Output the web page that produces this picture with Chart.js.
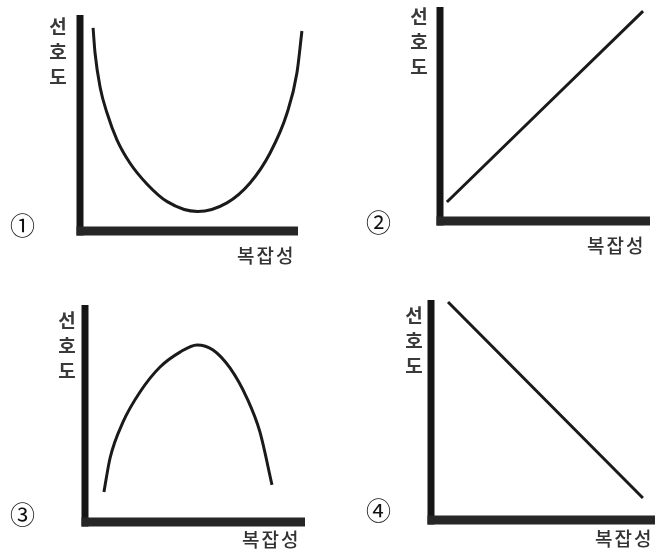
<!DOCTYPE html>
<html>
<head>
<meta charset="utf-8">
<script src="https://cdn.jsdelivr.net/npm/chart.js@4/dist/chart.umd.min.js"></script>
<style>
    body { margin: 0; background: #fff; }
    #page { position: relative; width: 669px; height: 555px; overflow: hidden; font-family: "Noto Sans CJK KR", sans-serif; color: #333; }
    #page canvas { position: absolute; left: 0; top: 0; }
    .ylab { position: absolute; width: 24px; font-size: 19px; line-height: 25px; text-align: center; font-weight: 700; color: #3a3a3a; }
    .xlab { position: absolute; font-size: 19px; letter-spacing: 2px; line-height: 20px; font-weight: 500; }
    .num { position: absolute; font-size: 25px; line-height: 24px; color: #111; }
</style>
</head>
<body>
<div id="page">
    <canvas id="c1" width="669" height="555"></canvas>
    <canvas id="c2" width="669" height="555"></canvas>
    <canvas id="c3" width="669" height="555"></canvas>
    <canvas id="c4" width="669" height="555"></canvas>

    <div class="ylab" style="left:46px; top:13px;">선<br>호<br>도</div>
    <div class="ylab" style="left:407px; top:3px;">선<br>호<br>도</div>
    <div class="ylab" style="left:55px; top:307px;">선<br>호<br>도</div>
    <div class="ylab" style="left:402px; top:302px;">선<br>호<br>도</div>

    <div class="xlab" style="left:237px; top:245px;">복잡성</div>
    <div class="xlab" style="left:587px; top:235px;">복잡성</div>
    <div class="xlab" style="left:242px; top:529px;">복잡성</div>
    <div class="xlab" style="left:595px; top:528px;">복잡성</div>

    <div class="num" style="left:10px; top:212px;">①</div>
    <div class="num" style="left:366px; top:209px;">②</div>
    <div class="num" style="left:10px; top:501px;">③</div>
    <div class="num" style="left:366px; top:497px;">④</div>
</div>
<script>
// complexity (0-100) vs preference (0-100)
var uShapeX = [6.0, 6.9, 9.2, 12.4, 17.0, 22.9, 30.7, 40.0, 54.0, 67.4, 78.0, 87.2, 95.0, 99.5, 101.8];
var uShapeY = [94.0, 82.4, 66.7, 54.6, 42.1, 31.5, 21.8, 13.6, 9.0, 13.0, 22.2, 36.1, 54.6, 73.1, 92.6];

var risingX = [3.3, 96.7];
var risingY = [8.9, 98.1];

var archX = [8.6, 11.4, 17.3, 25.0, 34.1, 43.2, 50.9, 58.2, 65.9, 73.6, 79.5, 85.0];
var archY = [13.8, 29.5, 46.1, 59.9, 71.4, 78.3, 81.6, 79.3, 71.0, 57.1, 41.5, 17.1];

var fallingX = [7.6, 94.6];
var fallingY = [99.1, 10.0];

// where each plot's axes sit on the page
var panels = [
    { id: 'c1', xs: uShapeX, ys: uShapeY, left: 80, top: 15, right: 298, bottom: 231 },
    { id: 'c2', xs: risingX, ys: risingY, left: 440, top: 7, right: 650, bottom: 221 },
    { id: 'c3', xs: archX, ys: archY, left: 85, top: 305, right: 305, bottom: 522 },
    { id: 'c4', xs: fallingX, ys: fallingY, left: 431, top: 300, right: 655, bottom: 520 }
];

var axesPlugin = {
    id: 'thickAxes',
    beforeDatasetsDraw: function(chart) {
        var ctx = chart.ctx;
        var x = chart.scales.x;
        var y = chart.scales.y;
        var x0 = x.getPixelForValue(0);
        var x1 = x.getPixelForValue(100);
        var y0 = y.getPixelForValue(0);
        var y1 = y.getPixelForValue(100);
        ctx.save();
        ctx.fillStyle = '#151515';
        ctx.fillRect(x0 - 3.5, y1, 7, y0 - y1 + 4.5);
        ctx.fillStyle = '#262626';
        ctx.fillRect(x0 - 3.5, y0 - 4.5, x1 - x0 + 3.5, 9);
        ctx.restore();
    }
};

panels.forEach(function(p) {
    var points = p.xs.map(function(v, i) {
        return { x: v, y: p.ys[i] };
    });

    new Chart(document.getElementById(p.id), {
        type: 'line',
        data: {
            datasets: [{
                data: points,
                borderColor: '#1a1a1a',
                borderWidth: 3,
                pointRadius: 0,
                cubicInterpolationMode: 'monotone',
                clip: false,
                fill: false
            }]
        },
        options: {
            responsive: false,
            animation: false,
            layout: {
                padding: { left: p.left, top: p.top, right: 669 - p.right, bottom: 555 - p.bottom }
            },
            scales: {
                x: { type: 'linear', min: 0, max: 100, display: false },
                y: { type: 'linear', min: 0, max: 100, display: false }
            },
            plugins: {
                legend: { display: false },
                tooltip: { enabled: false }
            }
        },
        plugins: [axesPlugin]
    });
});
</script>
</body>
</html>
